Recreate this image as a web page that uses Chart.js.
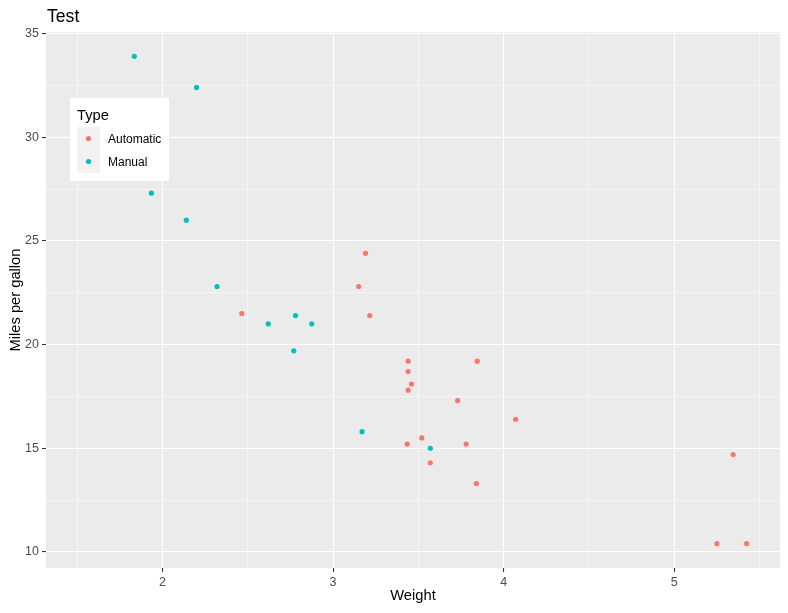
<!DOCTYPE html>
<html>
<head>
<meta charset="utf-8">
<script src="https://cdn.jsdelivr.net/npm/chart.js@4/dist/chart.umd.min.js"></script>
<style>
  html, body { margin: 0; padding: 0; background: #ffffff; }
  #wrap { width: 788px; height: 613px; }
</style>
</head>
<body>
<div id="wrap"><canvas id="c" width="788" height="613"></canvas></div>
<script>
// mtcars: weight (1000 lbs) vs miles per gallon, by transmission type
const automaticWeight = [3.215, 3.440, 3.460, 3.570, 3.190, 3.150, 3.440, 3.440, 4.070, 3.730, 3.780, 5.250, 5.424, 5.345, 2.465, 3.520, 3.435, 3.840, 3.845];
const automaticMpg    = [21.4, 18.7, 18.1, 14.3, 24.4, 22.8, 19.2, 17.8, 16.4, 17.3, 15.2, 10.4, 10.4, 14.7, 21.5, 15.5, 15.2, 13.3, 19.2];
const manualWeight = [2.620, 2.875, 2.320, 2.200, 1.615, 1.835, 1.935, 2.140, 1.513, 3.170, 2.770, 3.570, 2.780];
const manualMpg    = [21.0, 21.0, 22.8, 32.4, 30.4, 33.9, 27.3, 26.0, 30.4, 15.8, 19.7, 15.0, 21.4];

const seriesNames = ['Automatic', 'Manual'];
const xMajorTicks = [2, 3, 4, 5];
const xMinorTicks = [1.5, 2.5, 3.5, 4.5, 5.5];
const yMajorTicks = [10, 15, 20, 25, 30, 35];
const yMinorTicks = [12.5, 17.5, 22.5, 27.5, 32.5];
const titleText = 'Test';
const xTitle = 'Weight';
const yTitle = 'Miles per gallon';
const legendTitle = 'Type';

const COLORS = ['#F8766D', '#00BFC4'];
const FONT = "'Liberation Sans', Arial, sans-serif";

function toPoints(xs, ys) { return xs.map((x, i) => ({ x: x, y: ys[i] })); }
function expand(arr) {
  const mn = Math.min(...arr), mx = Math.max(...arr), d = (mx - mn) * 0.05;
  return [mn - d, mx + d];
}
const [xMin, xMax] = expand(automaticWeight.concat(manualWeight));
const [yMin, yMax] = expand(automaticMpg.concat(manualMpg));

function tickList(major, minor) {
  return major.concat(minor).sort((a, b) => a - b).map(v => ({ value: v }));
}
function isMajor(list, v) { return list.some(m => Math.abs(m - v) < 1e-9); }

const panelPlugin = {
  id: 'panel',
  beforeDraw(chart) {
    const { ctx, chartArea: a } = chart;
    ctx.save();
    ctx.fillStyle = '#ffffff';
    ctx.fillRect(0, 0, chart.width, chart.height);
    ctx.fillStyle = '#EBEBEB';
    ctx.fillRect(a.left, a.top, a.right - a.left, a.bottom - a.top);
    ctx.restore();
  },
  afterDraw(chart) {
    const { ctx, chartArea: a } = chart;
    ctx.save();
    // title
    ctx.fillStyle = '#000000';
    ctx.font = '17.6px ' + FONT;
    ctx.textAlign = 'left';
    ctx.textBaseline = 'alphabetic';
    ctx.fillText(titleText, a.left + 1, 22);
    // legend box
    const lx = 70, ly = 98, lw = 99, lh = 83;
    ctx.fillStyle = '#ffffff';
    ctx.fillRect(lx, ly, lw, lh);
    ctx.fillStyle = '#000000';
    ctx.font = '14.7px ' + FONT;
    ctx.fillText(legendTitle, lx + 7, ly + 22);
    const keyX = lx + 7, keyY = ly + 29, keySize = 23;
    seriesNames.forEach((name, i) => {
      const ky = keyY + i * keySize;
      ctx.fillStyle = '#F2F2F2';
      ctx.fillRect(keyX, ky, keySize, keySize);
      ctx.fillStyle = COLORS[i];
      ctx.beginPath();
      ctx.arc(keyX + keySize / 2, ky + keySize / 2, 2.6, 0, Math.PI * 2);
      ctx.fill();
      ctx.fillStyle = '#000000';
      ctx.font = '12px ' + FONT;
      ctx.textBaseline = 'middle';
      ctx.fillText(name, keyX + keySize + 8, ky + keySize / 2 + 1);
      ctx.textBaseline = 'alphabetic';
    });
    ctx.restore();
  }
};

new Chart(document.getElementById('c'), {
  type: 'scatter',
  data: {
    datasets: [
      { label: seriesNames[0], data: toPoints(automaticWeight, automaticMpg), backgroundColor: COLORS[0], borderWidth: 0, pointRadius: 2.6 },
      { label: seriesNames[1], data: toPoints(manualWeight, manualMpg), backgroundColor: COLORS[1], borderWidth: 0, pointRadius: 2.6 }
    ]
  },
  options: {
    responsive: false,
    animation: false,
    layout: { padding: { top: 32, left: 0, right: 8, bottom: 0 } },
    plugins: { legend: { display: false }, tooltip: { enabled: false }, title: { display: false } },
    scales: {
      x: {
        type: 'linear',
        min: xMin, max: xMax,
        afterBuildTicks: s => { s.ticks = tickList(xMajorTicks, xMinorTicks); },
        afterFit: s => { s.height = 45; },
        border: { display: false },
        grid: {
          color: '#ffffff',
          lineWidth: c => isMajor(xMajorTicks, c.tick.value) ? 1.07 : 0.53,
          tickColor: c => isMajor(xMajorTicks, c.tick.value) ? '#333333' : 'rgba(0,0,0,0)',
          tickLength: 4,
          tickWidth: 1.07
        },
        ticks: {
          color: '#4D4D4D',
          font: { family: FONT, size: 12.5 },
          padding: 3,
          maxRotation: 0,
          autoSkip: false,
          callback: v => isMajor(xMajorTicks, v) ? String(v) : ''
        },
        title: { display: true, text: xTitle, color: '#000000', font: { family: FONT, size: 14.7 }, padding: { top: 0, bottom: 8 } }
      },
      y: {
        type: 'linear',
        min: yMin, max: yMax,
        afterBuildTicks: s => { s.ticks = tickList(yMajorTicks, yMinorTicks); },
        afterFit: s => { s.width = 46; },
        border: { display: false },
        grid: {
          color: '#ffffff',
          lineWidth: c => isMajor(yMajorTicks, c.tick.value) ? 1.07 : 0.53,
          tickColor: c => isMajor(yMajorTicks, c.tick.value) ? '#333333' : 'rgba(0,0,0,0)',
          tickLength: 4,
          tickWidth: 1.07
        },
        ticks: {
          color: '#4D4D4D',
          font: { family: FONT, size: 12.5 },
          padding: 3,
          autoSkip: false,
          callback: v => isMajor(yMajorTicks, v) ? String(v) : ''
        },
        title: { display: true, text: yTitle, color: '#000000', font: { family: FONT, size: 14.7 }, padding: { top: 7, bottom: 0 } }
      }
    }
  },
  plugins: [panelPlugin]
});
</script>
</body>
</html>
